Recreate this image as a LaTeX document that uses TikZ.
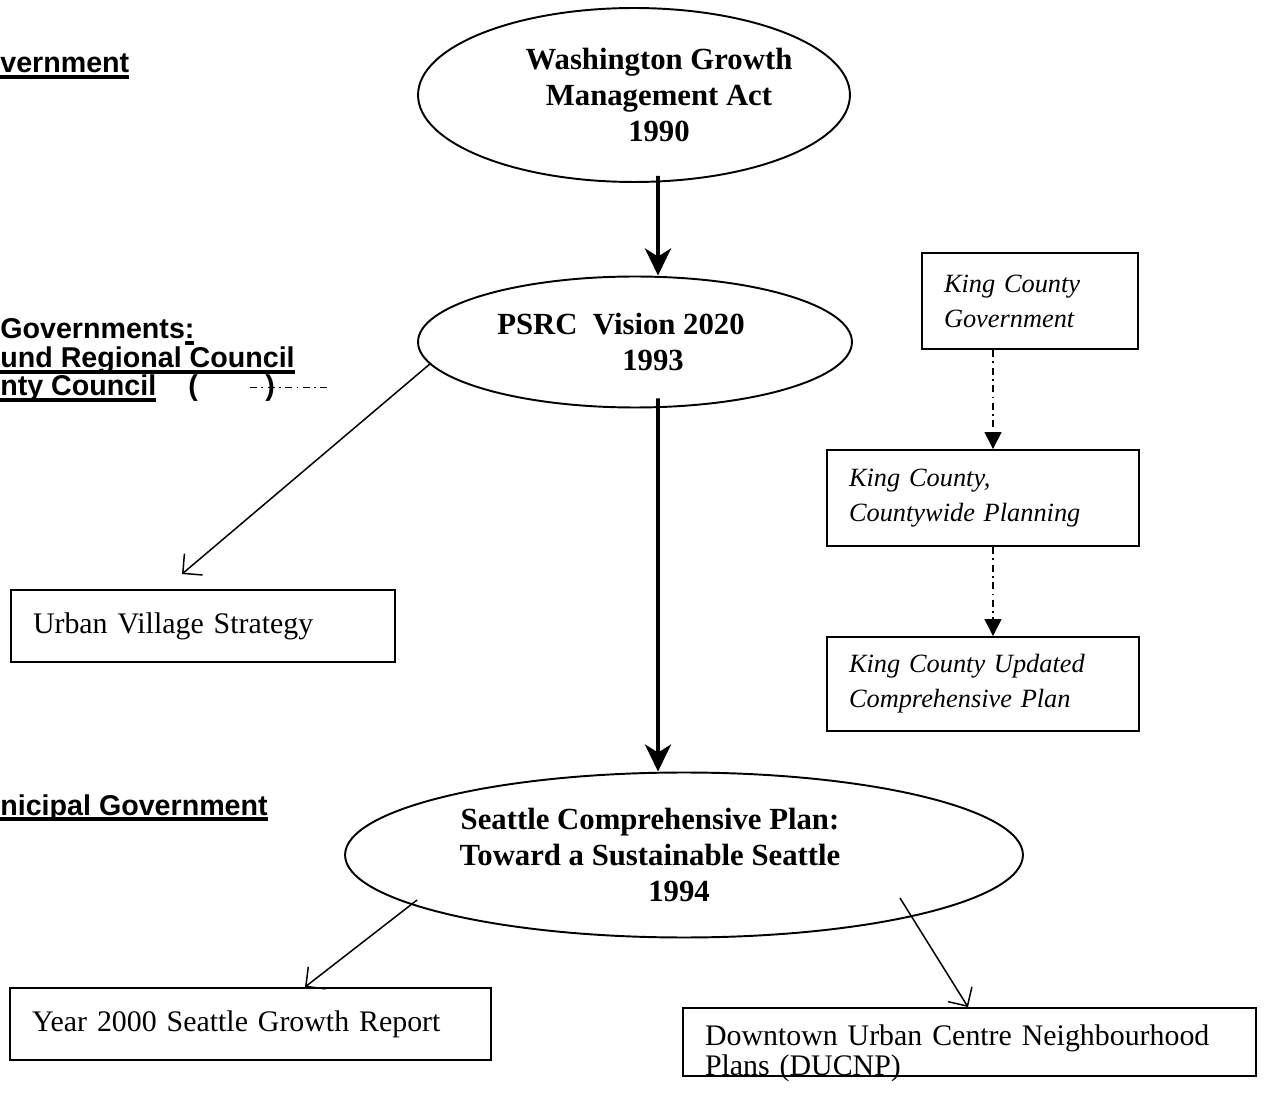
\documentclass[tikz,border=0pt]{standalone}
\usepackage{fontspec}
\setmainfont{Liberation Serif}
\setsansfont{Liberation Sans}
\usetikzlibrary{shapes.geometric}
\usetikzlibrary{arrows.meta}
\usetikzlibrary{positioning}

\newcommand{\ulbar}[1]{\setbox0\hbox{#1}\rlap{\rule[-3.2pt]{\wd0}{1.8pt}}\box0}

\begin{document}
\begin{tikzpicture}[x=0.02cm,y=-0.02cm,
  act/.style={ellipse,draw,line width=1.1pt,inner sep=-0.5cm,align=center,font=\fontsize{17.5}{20.5}\selectfont\bfseries},
  box/.style={draw,line width=1.1pt,inner xsep=0.44cm,inner ysep=0.1cm,align=left,font=\fontsize{17}{20}\selectfont},
  kbox/.style={box,font=\fontsize{15}{20}\selectfont\itshape},
  level/.style={anchor=base west,inner sep=0pt,font=\sffamily\bfseries\fontsize{16.3}{18}\selectfont},
  ptr/.style={-{Straight Barb[length=2.8mm,width=5.6mm]},line width=0.85pt},
  main/.style={-{Stealth[length=5.4mm,width=5.2mm,inset=1.6mm]},line width=2.2pt},
  dashdot/.style={line width=0.8pt,dash pattern=on 4pt off 2.5pt on 1pt off 2.5pt},
  county/.style={dashdot,-{Triangle[length=3.4mm,width=3.4mm]}}
]
\useasboundingbox (0,0) rectangle (1265,1104);
% Levels
\node[level] (lstate) at (0,73) {\ulbar{vernment}};
\node[level] (lreg) at (0,339) {Governments\ulbar{:}};
\node[level] (lpsrc) at (0,368) {\ulbar{und Regional Council}};
\node[level] (lkc) at (0,396) {\ulbar{nty Council}};
\node[level] (lpar) at (188,396) {(};
\node[level] (rpar) at (265,396) {)};
\node[level] (lmun) at (0,815) {\ulbar{nicipal Government}};
\draw[dashdot] ([xshift=-0.3cm,yshift=0.17cm]rpar.base west) -- ([xshift=1.05cm,yshift=0.17cm]rpar.base east);
% Acts and plans
\node[act,minimum width=8.64cm,minimum height=3.48cm] (gma) at (634,95)
  {\hspace*{1cm}Washington Growth\\\hspace*{1cm}Management Act\\\hspace*{1cm}1990};
\node[act,minimum width=8.68cm,minimum height=2.62cm] (psrc) at (635,342)
  {\hspace*{-0.56cm}PSRC\ \ Vision 2020\\\hspace*{0.72cm}1993};
\node[act,minimum width=13.56cm,minimum height=3.3cm] (scp) at (684,855)
  {\hspace*{-1.36cm}Seattle Comprehensive Plan:\\\hspace*{-1.36cm}Toward a Sustainable Seattle\\\hspace*{-0.2cm}1994};
% King County
\node[kbox,text width=3.44cm,minimum height=1.92cm] (kcg) at (1030,301) {King County\\Government};
\node[kbox,text width=5.36cm,minimum height=1.92cm] (kccp) at (983,498) {King County,\\Countywide Planning};
\node[kbox,text width=5.36cm,minimum height=1.88cm] (kcup) at (983,684) {King County Updated\\Comprehensive Plan};
% Outcomes
\node[box,text width=6.8cm,minimum height=1.44cm] (uvs) at (203,626) {Urban Village Strategy};
\node[box,text width=8.74cm,minimum height=1.44cm] (y2k) at (250.5,1024) {Year 2000 Seattle Growth Report};
\node[box,text width=10.58cm,minimum height=1.36cm,inner ysep=0pt,font=\fontsize{17}{17}\selectfont] (ducnp) at (969.5,1042)
  {\rule{0pt}{20.6pt}Downtown Urban Centre Neighbourhood\\\smash{Plans (DUCNP)}};

\draw[main] ([xshift=0.48cm,yshift=0.14cm]gma.south) -- ([xshift=0.46cm]psrc.north);
\draw[main] ([xshift=0.46cm,yshift=0.2cm]psrc.south) -- ([xshift=-0.52cm]scp.north);
\draw[ptr] ([xshift=0.28cm,yshift=-0.42cm]psrc.west) -- ([xshift=-0.42cm,yshift=0.3cm]uvs.north);
\draw[ptr] ([xshift=1.46cm,yshift=-0.9cm]scp.west) -- ([xshift=1.09cm]y2k.north);
\draw[ptr] ([xshift=4.32cm,yshift=-0.86cm]scp.center) -- ([xshift=-0.03cm]ducnp.north);
\coordinate (kcx) at ([xshift=-0.74cm]kcg.south);
\draw[county] (kcx) -- (kcx |- kccp.north);
\draw[county] (kccp.south -| kcx) -- (kcx |- kcup.north);
\end{tikzpicture}
\end{document}
